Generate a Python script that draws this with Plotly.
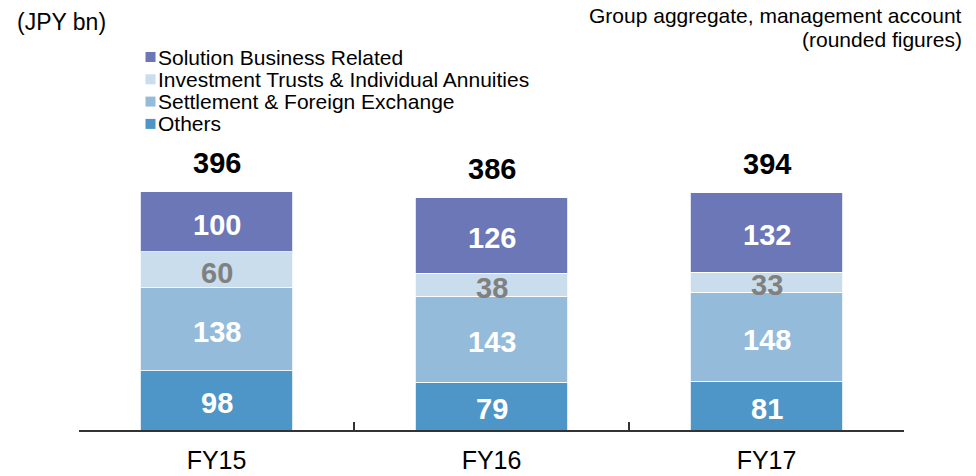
import plotly.graph_objects as go

# data
years = ["FY15", "FY16", "FY17"]
others = [98, 79, 81]
settlement = [138, 143, 148]
inv_trusts = [60, 38, 33]
solution = [100, 126, 132]
totals = [396, 386, 394]

series = [
    ("Others", others, "#4F96C8", "white"),
    ("Settlement & Foreign Exchange", settlement, "#94BCDA", "white"),
    ("Investment Trusts & Individual Annuities", inv_trusts, "#C9DDEC", "#808080"),
    ("Solution Business Related", solution, "#6B77B6", "white"),
]

FONT = "Arial, Liberation Sans, sans-serif"

# plot area in pixels
L, R, T, B = 79, 72, 159, 46
W, H = 976, 476
PW, PH = W - L - R, H - T - B


def px(x):
    return (x - L) / PW


def py(y):
    return (H - B - y) / PH


fig = go.Figure()
base = [0, 0, 0]
for name, vals, col, tcol in series:
    fig.add_trace(go.Bar(x=years, y=vals, name=name, marker_color=col,
                         marker_line=dict(color="rgba(255,255,255,0.8)", width=1),
                         showlegend=False))
    # segment labels at segment centre
    for yr, b, v in zip(years, base, vals):
        fig.add_annotation(x=yr, y=b + v / 2, text=str(v), showarrow=False, yanchor="middle",
                           yshift=-3, font=dict(size=29, color=tcol, family=FONT, weight="bold"))
    base = [b + v for b, v in zip(base, vals)]

# totals
for yr, t in zip(years, totals):
    fig.add_annotation(x=yr, y=t, text=str(t), showarrow=False, yanchor="middle", yshift=29,
                       font=dict(size=29, color="black", family=FONT, weight="bold"))

# legend (top entry = top of stack)
for i, (name, vals, col, tcol) in enumerate(reversed(series)):
    yc = 57 + i * 22.3
    fig.add_shape(type="rect", xref="paper", yref="paper",
                  x0=px(145.5), x1=px(155.5), y0=py(yc - 5), y1=py(yc + 5),
                  fillcolor=col, line_width=0)
    fig.add_annotation(xref="paper", yref="paper", x=px(156), y=py(yc), xanchor="left",
                       yanchor="middle", text=name, showarrow=False,
                       font=dict(size=21, color="black", family=FONT))

fig.add_annotation(xref="paper", yref="paper", x=px(15), y=py(22), xanchor="left", yanchor="middle",
                   text="(JPY bn)", showarrow=False, font=dict(size=23, color="black", family=FONT))
fig.add_annotation(xref="paper", yref="paper", x=px(964), y=py(15), xanchor="right", yanchor="middle",
                   text="Group aggregate, management account", showarrow=False,
                   font=dict(size=21, color="black", family=FONT))
fig.add_annotation(xref="paper", yref="paper", x=px(964), y=py(40), xanchor="right", yanchor="middle",
                   text="(rounded figures)", showarrow=False,
                   font=dict(size=21, color="black", family=FONT))

fig.update_layout(
    width=W, height=H,
    barmode="stack", bargap=0.444,
    plot_bgcolor="white", paper_bgcolor="white",
    margin=dict(l=L, r=R, t=T, b=B, autoexpand=False),
    font=dict(family=FONT, color="black"),
    showlegend=False,
)
fig.update_xaxes(showline=True, linecolor="#333", linewidth=2, ticks="inside", ticklen=8,
                 tickcolor="#333", tickwidth=2, tickson="boundaries", automargin=False,
                 tickfont=dict(size=25, color="black", family=FONT), ticklabelstandoff=7)
fig.update_yaxes(visible=False, range=[0, 450], automargin=False)

fig.write_html("out.html", config={"displayModeBar": False},
               post_script="document.body.style.margin='0';")
